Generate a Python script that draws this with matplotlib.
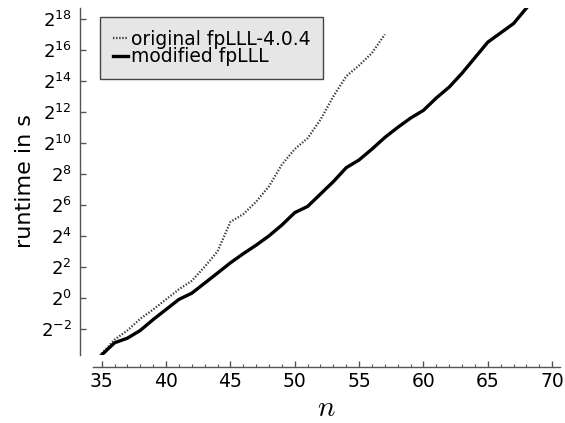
import numpy as np
import matplotlib
matplotlib.use("Agg")
import matplotlib.pyplot as plt
from matplotlib.ticker import FixedLocator, FuncFormatter, MultipleLocator

# block size n and log2 of runtime in seconds
n_orig = list(range(35, 58))
log2_orig = [-3.6, -2.7, -2.1, -1.35, -0.75, -0.1, 0.55, 1.1, 2.0, 3.0, 4.9,
             5.4, 6.2, 7.2, 8.6, 9.6, 10.3, 11.5, 13.0, 14.3, 15.0, 15.8, 17.0]

n_mod = list(range(35, 69))
log2_mod = [-3.68, -2.9, -2.6, -2.1, -1.4, -0.75, -0.1, 0.3, 0.95, 1.6, 2.26,
            2.85, 3.4, 4.0, 4.7, 5.5, 5.9, 6.7, 7.5, 8.4, 8.9, 9.6, 10.35,
            11.0, 11.6, 12.1, 12.9, 13.6, 14.5, 15.5, 16.5, 17.1, 17.7, 18.7]

labels = ["original fpLLL-4.0.4", "modified fpLLL"]
ytick_exp = list(range(-2, 19, 2))

fig = plt.figure(figsize=(5.65, 4.23), dpi=100)
ax = fig.add_axes([0.164, 0.161, 0.827, 0.820])

ax.plot(n_orig, 2.0 ** np.array(log2_orig), color="#333333", lw=1.6,
        linestyle=(0, (0.6, 0.8)), label=labels[0])
ax.plot(n_mod, 2.0 ** np.array(log2_mod), color="black", lw=2.4,
        label=labels[1])

ax.set_yscale("log", base=2)
ax.set_xlim(34.3, 70.6)
ax.set_ylim(2 ** -3.68, 2 ** 18.7)

ax.yaxis.set_major_locator(FixedLocator([2.0 ** e for e in ytick_exp]))
ax.yaxis.set_major_formatter(FuncFormatter(
    lambda v, p: "$2^{%d}$" % int(round(np.log2(v)))))
ax.yaxis.set_minor_locator(FixedLocator([]))
ax.xaxis.set_major_locator(MultipleLocator(5))
ax.xaxis.set_minor_locator(MultipleLocator(1))

for s in ["top", "right"]:
    ax.spines[s].set_visible(False)
for s in ["left", "bottom"]:
    ax.spines[s].set_position(("outward", 9))
    ax.spines[s].set_color("#555555")
    ax.spines[s].set_linewidth(1.0)

ax.tick_params(which="major", direction="in", length=4, width=1,
               color="#555555", labelsize=13.5)
ax.tick_params(axis="y", pad=6, labelsize=13)
ax.tick_params(which="minor", direction="in", length=2, width=0.8,
               color="#555555")

ax.set_ylabel("runtime in s", fontsize=16)
ax.yaxis.set_label_coords(-0.124, 0.5)
ax.set_xlabel("$n$", fontsize=21, math_fontfamily="cm")
ax.xaxis.set_label_coords(0.5, -0.112)

leg = ax.legend(loc="upper left", bbox_to_anchor=(0.0156, 0.974),
                fontsize=13.5, handlelength=0.8, handletextpad=0.16,
                labelspacing=-0.08, borderpad=0.67, borderaxespad=0,
                fancybox=False, framealpha=1)
leg.get_frame().set_facecolor("#e6e6e6")
leg.get_frame().set_edgecolor("#444444")
leg.get_frame().set_linewidth(1.0)

fig.savefig("out.png", dpi=100)
